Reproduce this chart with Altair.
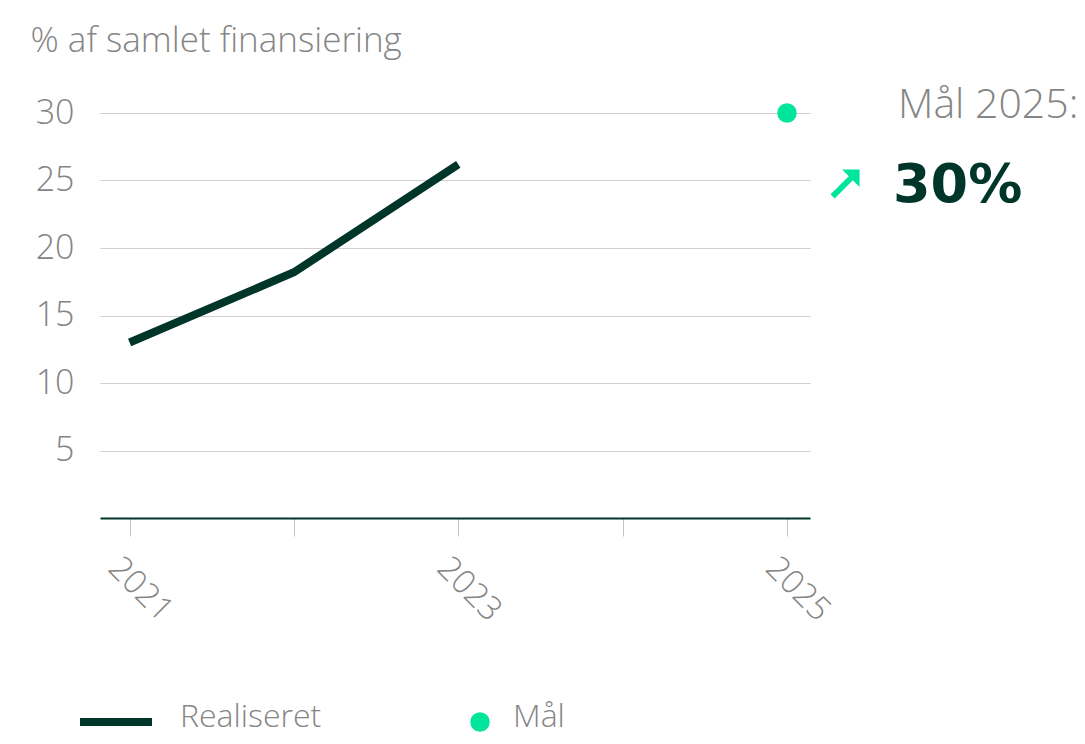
import altair as alt
import pandas as pd

# ---- data ----
years = [2021, 2022, 2023]
realised = [13.0, 18.2, 26.2]
goal_year = [2025]
goal_value = [30]
series_names = ["Realiseret", "Mål"]
y_ticks = [5, 10, 15, 20, 25, 30]
x_ticks = [2021, 2022, 2023, 2024, 2025]
y_title = "% af samlet finansiering"

DARK = "#00352A"
GREEN = "#00E59B"
GRAY = "#858585"
FONT = "Open Sans"

df_real = pd.DataFrame({"year": years, "value": realised})
df_goal = pd.DataFrame({"year": goal_year, "value": goal_value})
df_goal["label1"] = ["Mål %d:" % y for y in goal_year]
df_goal["label2"] = ["%d%%" % v for v in goal_value]

xscale = alt.Scale(domain=[2020.82, 2025.14], nice=False, zero=False)
yscale = alt.Scale(domain=[0, 30], nice=False)

xaxis = alt.Axis(
    values=x_ticks,
    labelExpr="(datum.value == 2022 || datum.value == 2024) ? '' : datum.label",
    format="d",
    labelAngle=45,
    labelAlign="left",
    labelBaseline="top",
    labelFontSize=33,
    labelFont=FONT,
    labelFontWeight=300,
    labelColor=GRAY,
    labelPadding=15,
    labelOffset=-5,
    tickColor="#c4c4c4",
    tickSize=18,
    tickWidth=1,
    domainColor=DARK,
    domainWidth=2,
    grid=False,
    title=None,
)
yaxis = alt.Axis(
    values=y_ticks,
    labelFontSize=34,
    labelFont=FONT,
    labelFontWeight=300,
    labelColor=GRAY,
    labelPadding=26,
    ticks=False,
    domain=False,
    grid=True,
    gridColor="#cfcfcf",
    gridWidth=1,
    title=y_title,
    titleAngle=0,
    titleAlign="left",
    titleBaseline="alphabetic",
    titleX=-70,
    titleY=-62,
    titleFont=FONT,
    titleFontSize=35,
    titleFontWeight=300,
    titleColor=GRAY,
)

X = alt.X("year:Q", scale=xscale, axis=xaxis)
Y = alt.Y("value:Q", scale=yscale, axis=yaxis)

line = alt.Chart(df_real).mark_line(color=DARK, strokeWidth=8).encode(x=X, y=Y)

point = alt.Chart(df_goal).mark_point(
    filled=True, color=GREEN, size=380, opacity=1, shape="circle"
).encode(x=X, y=Y)

base_goal = alt.Chart(df_goal).encode(x=X, y=Y)
txt1 = base_goal.mark_text(
    align="left", baseline="alphabetic", dx=111, dy=5,
    font=FONT, fontSize=41, fontWeight=300, color=GRAY,
).encode(text="label1:N")
txt2 = base_goal.mark_text(
    align="left", baseline="alphabetic", dx=106, dy=89,
    font="DejaVu Sans", fontSize=54, fontWeight="bold", color=DARK,
).encode(text="label2:N")
arrow_path = "M -0.99 0.71 L 0.26 -0.54 L -0.2 -1 L 1 -1 L 1 0.2 L 0.54 -0.26 L -0.71 0.99 Z"
arrow = base_goal.mark_point(
    shape=arrow_path, filled=True, color=GREEN, size=850, opacity=1, xOffset=58, yOffset=71,
)

# ---- manual legend ----
leg_line = alt.Chart(pd.DataFrame({"n": [series_names[0]]})).mark_rule(
    color=DARK, strokeWidth=8
).encode(x=alt.value(-20), x2=alt.value(52), y=alt.value(609))
leg_dot = alt.Chart(pd.DataFrame({"n": [series_names[1]]})).mark_point(
    filled=True, color=GREEN, size=380, opacity=1, shape="circle"
).encode(x=alt.value(380), y=alt.value(609))
leg_t1 = alt.Chart(pd.DataFrame({"n": [series_names[0]]})).mark_text(
    align="left", baseline="middle", font=FONT, fontSize=32, fontWeight=300, color=GRAY
).encode(x=alt.value(80), y=alt.value(604), text="n:N")
leg_t2 = alt.Chart(pd.DataFrame({"n": [series_names[1]]})).mark_text(
    align="left", baseline="middle", font=FONT, fontSize=32, fontWeight=300, color=GRAY
).encode(x=alt.value(413), y=alt.value(604), text="n:N")

chart = alt.layer(
    line, point, txt1, txt2, arrow, leg_line, leg_dot, leg_t1, leg_t2
).properties(
    width=710,
    height=405,
    background="white",
    autosize=alt.AutoSizeParams(type="none"),
    padding={"left": 92, "top": 105, "right": 267, "bottom": 218},
).configure_view(strokeWidth=0, stroke="transparent")

chart.save("out.html", embed_options={"renderer": "svg", "actions": False})
